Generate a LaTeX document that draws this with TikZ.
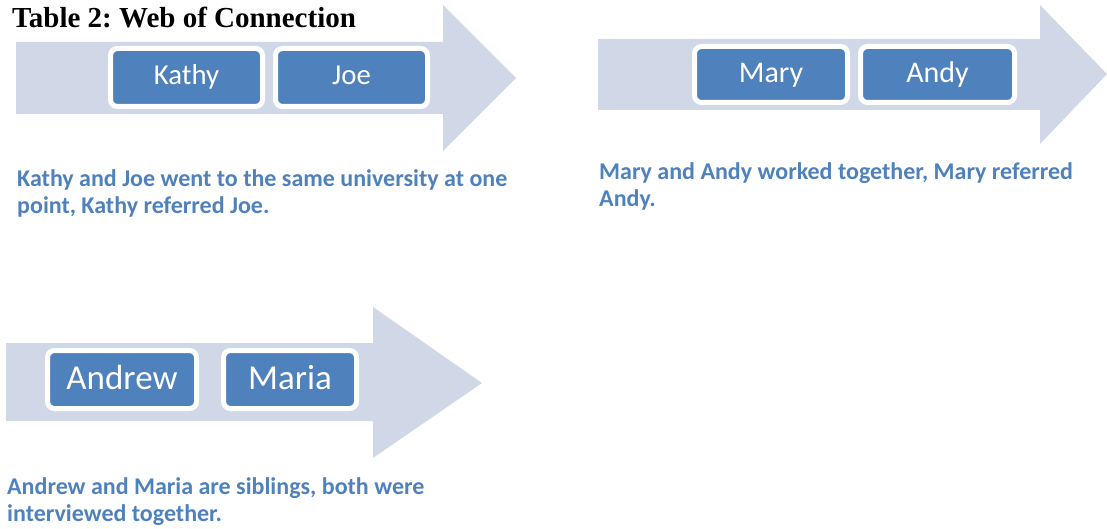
\documentclass[tikz,border=0pt]{standalone}
\usepackage{fontspec}
\setmainfont{Liberation Serif}
\newfontfamily\calibri{Carlito}
\definecolor{arrowfill}{HTML}{D0D8E8}
\definecolor{boxfill}{HTML}{4F81BD}
\tikzset{
    person/.style={draw=white, line width=5pt, fill=boxfill, rounded corners=7pt,
        text=white, inner sep=0pt, minimum height=58pt, text height=20pt, text depth=5pt},
    caption/.style={anchor=north west, inner sep=0pt, align=left, text=boxfill,
        font=\calibri\bfseries\fontsize{24}{27.5}\selectfont},
}
\begin{document}
\frenchspacing
\begin{tikzpicture}[x=1pt, y=-1pt]
    \useasboundingbox (0,0) rectangle (1107,529);
    % the three arrows
    \fill[arrowfill] (16,42) -- (443,42) -- (443,5) -- (516,78) -- (443,151) -- (443,114) -- (16,114) -- cycle;
    \fill[arrowfill] (598,39) -- (1040,39) -- (1040,5) -- (1107,74) -- (1040,144) -- (1040,110) -- (598,110) -- cycle;
    \fill[arrowfill] (6,343) -- (373,343) -- (373,307) -- (482,383) -- (373,458) -- (373,421) -- (6,421) -- cycle;
    \node[anchor=base west, inner sep=0pt, font=\bfseries\fontsize{29}{32}\selectfont] (title) at (12,28) {Table 2: Web of Connection};
    % pairs
    \node[person, minimum width=152pt, font=\calibri\fontsize{28.8}{30}\selectfont] (kathy) at (186.5,77.5) {Kathy};
    \node[person, minimum width=152pt, font=\calibri\fontsize{28.8}{30}\selectfont] (joe) at (351.5,77.5) {Joe};
    \node[person, minimum width=153pt, minimum height=56pt, text height=22pt, text depth=5pt,
        font=\calibri\fontsize{30}{32}\selectfont] (mary) at (771,74.5) {Mary};
    \node[person, minimum width=154pt, minimum height=56pt, text height=22pt, text depth=5pt,
        font=\calibri\fontsize{30}{32}\selectfont] (andy) at (937.5,74.5) {Andy};
    \node[person, minimum width=149pt, text height=26pt, text depth=7pt,
        font=\calibri\fontsize{35}{38}\selectfont] (andrew) at (122,379.5) {Andrew};
    \node[person, minimum width=133pt, text height=26pt, text depth=7pt,
        font=\calibri\fontsize{35}{38}\selectfont] (maria) at (290,379.5) {Maria};
    % notes
    \node[caption] (note1) at (17,169) {Kathy and Joe went to the same university at one\\point, Kathy referred Joe.};
    \node[caption] (note2) at (599,162) {Mary and Andy worked together, Mary referred\\Andy.};
    \node[caption] (note3) at (7,477) {Andrew and Maria are siblings, both were\\interviewed together.};
\end{tikzpicture}
\end{document}
